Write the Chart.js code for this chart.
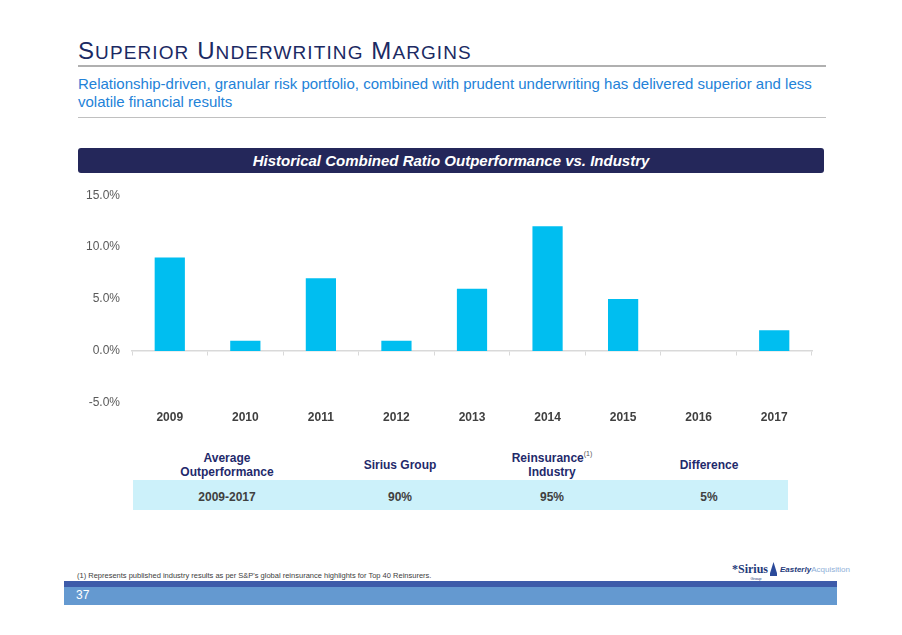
<!DOCTYPE html>
<html>
<head>
<meta charset="utf-8">
<script src="https://cdn.jsdelivr.net/npm/chart.js@4"></script>
<style>
  html,body{margin:0;padding:0;background:#fff;}
  body{width:902px;height:635px;position:relative;overflow:hidden;font-family:"Liberation Sans",Arial,sans-serif;}
  .abs{position:absolute;white-space:nowrap;}
  #title{left:78px;top:37px;font-size:24px;line-height:28px;color:#1B2A63;letter-spacing:1.1px;}
  #title .s{font-size:19px;}
  .rule{position:absolute;left:78px;width:748px;height:2px;background:#B0B0B0;}
  #sub{left:78px;top:75px;font-size:15px;line-height:18px;color:#2382D8;white-space:normal;width:760px;}
  #banner{left:78px;top:148px;width:746px;height:25px;background:#24275A;border-radius:3px;color:#fff;font-weight:bold;font-style:italic;font-size:15px;text-align:center;line-height:25px;}
  #chartbox{position:absolute;left:62px;top:176px;width:770px;height:250px;}
  .th{color:#1F2A6B;font-weight:bold;font-size:12px;line-height:14px;text-align:center;transform:translateX(-50%);}
  #rowbg{left:133px;top:480px;width:655px;height:30px;background:#CCF1FA;}
  .td{color:#404040;font-weight:bold;font-size:12px;top:490px;transform:translateX(-50%);}
  #foot{left:77px;top:571px;font-size:7.5px;color:#404040;}
  #band1{left:64px;top:581px;width:773px;height:6px;background:#3D5BA9;}
  #band2{left:64px;top:587px;width:773px;height:18px;background:#6499D0;}
  #pg{left:76px;top:588px;font-size:12px;color:#fff;}
</style>
</head>
<body>
<div id="title" class="abs">S<span class="s">UPERIOR</span> U<span class="s">NDERWRITING</span> M<span class="s">ARGINS</span></div>
<div class="rule" style="top:65px"></div>
<div id="sub" class="abs">Relationship-driven, granular risk portfolio, combined with prudent underwriting has delivered superior and less volatile financial results</div>
<div class="rule" style="top:117px;height:1px;background:#C0C0C0"></div>
<div id="banner" class="abs">Historical Combined Ratio Outperformance vs. Industry</div>
<div id="chartbox"><canvas id="c"></canvas></div>

<div id="rowbg" class="abs"></div>
<div class="abs th" style="left:227px;top:451px">Average<br>Outperformance</div>
<div class="abs th" style="left:400px;top:458px">Sirius Group</div>
<div class="abs th" style="left:552px;top:451px">Reinsurance<sup style="font-size:7px;font-weight:normal;color:#555;vertical-align:6px;line-height:0">(1)</sup><br>Industry</div>
<div class="abs th" style="left:709px;top:458px">Difference</div>
<div class="abs td" style="left:227px">2009-2017</div>
<div class="abs td" style="left:400px">90%</div>
<div class="abs td" style="left:552px">95%</div>
<div class="abs td" style="left:709px">5%</div>

<div id="foot" class="abs">(1) Represents published industry results as per S&amp;P's global reinsurance highlights for Top 40 Reinsurers.</div>
<div class="abs" style="left:732px;top:562px;font-family:'Liberation Serif',serif;font-size:12px;font-weight:bold;color:#1F3A7A;">*Sirius<div style="font-size:4px;font-family:Arial;text-align:center;margin-left:12px;line-height:4px;font-weight:normal">Group</div></div>
<div class="abs" style="left:770px;top:562px;width:7px;height:14px;background:#2B4A9A;clip-path:polygon(50% 0,100% 80%,100% 100%,0 100%,0 80%);"></div>
<div class="abs" style="left:780px;top:565px;font-size:8px;font-weight:bold;font-style:italic;color:#1F3A7A;">Easterly<span style="font-weight:normal;font-style:normal;color:#8FB0D8">Acquisition</span></div>
<div id="band1" class="abs"></div>
<div id="band2" class="abs"></div>
<div id="pg" class="abs">37</div>

<script>
const years = ["2009","2010","2011","2012","2013","2014","2015","2016","2017"];
const outperformance = [9, 1, 7, 1, 6, 12, 5, 0, 2];
const yTicks = [-5, 0, 5, 10, 15];

new Chart(document.getElementById('c'), {
  type: 'bar',
  data: {
    labels: years,
    datasets: [{
      data: outperformance,
      backgroundColor: '#00BEF0',
      borderWidth: 0,
      barPercentage: 0.5,
      categoryPercentage: 0.8,
      xAxisID: 'x',
      yAxisID: 'y'
    }]
  },
  options: {
    responsive: true,
    maintainAspectRatio: false,
    animation: false,
    layout: {padding: {top: 10, right: 20, left: 0, bottom: 0}},
    plugins: {legend: {display: false}, tooltip: {enabled: false}},
    scales: {
      y: {
        min: yTicks[0], max: yTicks[yTicks.length-1],
        afterBuildTicks: s => { s.ticks = yTicks.map(v => ({value: v})); },
        afterFit: s => { s.width = 70; },
        grid: {display: false, drawTicks: false},
        border: {display: false},
        ticks: {padding: 12, color: '#595959', font: {family: 'Liberation Sans', size: 12},
                callback: v => v.toFixed(1) + '%'}
      },
      x: {
        type: 'category',
        offset: true,
        afterFit: s => { s.height = 23; },
        grid: {display: false, drawTicks: false},
        border: {display: false},
        ticks: {padding: 7, color: '#404040', font: {family: 'Liberation Sans', size: 12, weight: 'bold'}}
      },
      x2: {
        type: 'category',
        labels: years,
        position: {y: 0},
        offset: true,
        grid: {offset: true, drawOnChartArea: false, drawTicks: true, tickLength: 4, color: '#D9D9D9', lineWidth: 1},
        border: {display: true, color: '#D9D9D9', width: 1.5},
        ticks: {display: false}
      }
    }
  }
});
</script>
</body>
</html>
